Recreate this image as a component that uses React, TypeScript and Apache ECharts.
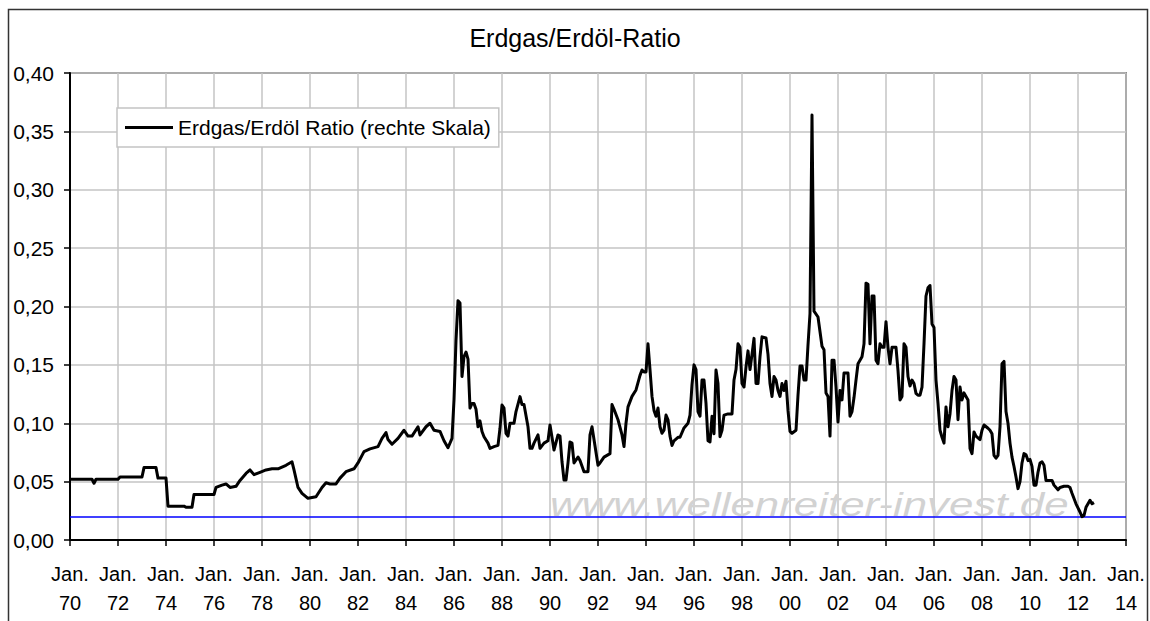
import React, { useEffect, useRef } from "react";
import * as echarts from "echarts";

const months: string[] = [
  "1970-01", "1970-12",
  "1971-01", "1971-02",
  "1972-01", "1972-02",
  "1973-01", "1973-02", "1973-08", "1973-09",
  "1974-01", "1974-02", "1974-10", "1974-11",
  "1975-02", "1975-03",
  "1976-01", "1976-02", "1976-05", "1976-07", "1976-09", "1976-12",
  "1977-02", "1977-05", "1977-07", "1977-09", "1977-12",
  "1978-03", "1978-06", "1978-09",
  "1979-01", "1979-04", "1979-05", "1979-07", "1979-09", "1979-12",
  "1980-04", "1980-07", "1980-09", "1980-11",
  "1981-02", "1981-04", "1981-07", "1981-11",
  "1982-01", "1982-04", "1982-07", "1982-11",
  "1983-01", "1983-03", "1983-04", "1983-06", "1983-09", "1983-12",
  "1984-02", "1984-04", "1984-07", "1984-08", "1984-11",
  "1985-01", "1985-03", "1985-06", "1985-08", "1985-10", "1985-12",
  "1986-01", "1986-02", "1986-03", "1986-04", "1986-05", "1986-06", "1986-07", "1986-08", "1986-09", "1986-10", "1986-11", "1986-12",
  "1987-01", "1987-02", "1987-03", "1987-04", "1987-06", "1987-07", "1987-09", "1987-11", "1987-12",
  "1988-01", "1988-02", "1988-03", "1988-04", "1988-05", "1988-07", "1988-08", "1988-10", "1988-11", "1988-12",
  "1989-02", "1989-03", "1989-04", "1989-05", "1989-07", "1989-08", "1989-10", "1989-12",
  "1990-01", "1990-02", "1990-03", "1990-05", "1990-06", "1990-07", "1990-08", "1990-09", "1990-10", "1990-11", "1990-12",
  "1991-01", "1991-03", "1991-04", "1991-06", "1991-08", "1991-09", "1991-10", "1991-11",
  "1992-01", "1992-02", "1992-04", "1992-07", "1992-08", "1992-09", "1992-11",
  "1993-01", "1993-02", "1993-03", "1993-04", "1993-06", "1993-08", "1993-10", "1993-11", "1993-12",
  "1994-01", "1994-02", "1994-03", "1994-04", "1994-05", "1994-06", "1994-07", "1994-08", "1994-09", "1994-10", "1994-11", "1994-12",
  "1995-01", "1995-02", "1995-03", "1995-05", "1995-06", "1995-08", "1995-10", "1995-11", "1995-12",
  "1996-01", "1996-02", "1996-03", "1996-04", "1996-05", "1996-06", "1996-07", "1996-08", "1996-09", "1996-10", "1996-11", "1996-12",
  "1997-01", "1997-02", "1997-03", "1997-04", "1997-06", "1997-08", "1997-09", "1997-10", "1997-11", "1997-12",
  "1998-01", "1998-02", "1998-03", "1998-04", "1998-05", "1998-06", "1998-07", "1998-08", "1998-09", "1998-10", "1998-11",
  "1999-01", "1999-02", "1999-03", "1999-04", "1999-05", "1999-06", "1999-07", "1999-08", "1999-09", "1999-10", "1999-11", "1999-12",
  "2000-01", "2000-02", "2000-04", "2000-05", "2000-06", "2000-07", "2000-08", "2000-09", "2000-10", "2000-11", "2000-12",
  "2001-01", "2001-03", "2001-05", "2001-06", "2001-07", "2001-08", "2001-09", "2001-10", "2001-11", "2001-12",
  "2002-01", "2002-02", "2002-03", "2002-04", "2002-05", "2002-06", "2002-07", "2002-08", "2002-09", "2002-10", "2002-11", "2002-12",
  "2003-01", "2003-02", "2003-03", "2003-04", "2003-05", "2003-06", "2003-07", "2003-08", "2003-09", "2003-10", "2003-11", "2003-12",
  "2004-01", "2004-02", "2004-03", "2004-04", "2004-05", "2004-06", "2004-07", "2004-08", "2004-09", "2004-10", "2004-11", "2004-12",
  "2005-01", "2005-02", "2005-03", "2005-04", "2005-05", "2005-06", "2005-07", "2005-08", "2005-09", "2005-10", "2005-11", "2005-12",
  "2006-01", "2006-02", "2006-03", "2006-04", "2006-05", "2006-06", "2006-07", "2006-08", "2006-09", "2006-10", "2006-11", "2006-12",
  "2007-01", "2007-02", "2007-03", "2007-04", "2007-05", "2007-06", "2007-07", "2007-08", "2007-09", "2007-10", "2007-12",
  "2008-01", "2008-02", "2008-04", "2008-05", "2008-06", "2008-07", "2008-08", "2008-09", "2008-10", "2008-11", "2008-12",
  "2009-01", "2009-02", "2009-03", "2009-04", "2009-05", "2009-06", "2009-07", "2009-08", "2009-09", "2009-10", "2009-11", "2009-12",
  "2010-01", "2010-02", "2010-03", "2010-04", "2010-05", "2010-06", "2010-07", "2010-08", "2010-09", "2010-12",
  "2011-01", "2011-03", "2011-04", "2011-06", "2011-08", "2011-09", "2011-10", "2011-12",
  "2012-02", "2012-03", "2012-04", "2012-05", "2012-07", "2012-08", "2012-09",
];

const ratio: number[] = [
  0.052, 0.052,
  0.0486, 0.052,
  0.052, 0.054,
  0.054, 0.062, 0.062, 0.053,
  0.053, 0.029, 0.029, 0.028,
  0.028, 0.039,
  0.039, 0.045, 0.047, 0.048, 0.045, 0.046,
  0.051, 0.057, 0.060, 0.056, 0.058,
  0.060, 0.061, 0.061,
  0.064, 0.067, 0.060, 0.045, 0.040, 0.0357,
  0.037, 0.045, 0.049, 0.048,
  0.048, 0.053, 0.0585, 0.061,
  0.066, 0.0757, 0.078, 0.080,
  0.087, 0.092, 0.086, 0.082, 0.087, 0.094,
  0.089, 0.089, 0.097, 0.090, 0.097,
  0.100, 0.094, 0.093, 0.085, 0.079, 0.087,
  0.120, 0.171, 0.205, 0.203, 0.140, 0.157, 0.161, 0.155, 0.113, 0.117, 0.117, 0.112,
  0.097, 0.102, 0.093, 0.0885, 0.083, 0.0785, 0.080, 0.081, 0.0957,
  0.1156, 0.113, 0.0914, 0.089, 0.100, 0.100, 0.110, 0.1228, 0.116, 0.116,
  0.097, 0.0785, 0.0785, 0.083, 0.090, 0.0785, 0.083, 0.085,
  0.0985, 0.088, 0.077, 0.090, 0.089, 0.067, 0.0514, 0.0514, 0.066, 0.084, 0.083,
  0.066, 0.071, 0.068, 0.0585, 0.0585, 0.090, 0.097, 0.086,
  0.064, 0.066, 0.071, 0.074, 0.116, 0.112, 0.103,
  0.090, 0.080, 0.100, 0.114, 0.123, 0.1285, 0.141, 0.1456, 0.144,
  0.144, 0.168, 0.146, 0.123, 0.111, 0.106, 0.113, 0.097, 0.0914, 0.094, 0.107, 0.103,
  0.089, 0.081, 0.085, 0.088, 0.088, 0.096, 0.100, 0.107, 0.133,
  0.150, 0.146, 0.110, 0.106, 0.137, 0.137, 0.117, 0.085, 0.084, 0.106, 0.091, 0.1456,
  0.134, 0.0885, 0.094, 0.107, 0.108, 0.108, 0.137, 0.146, 0.168, 0.165,
  0.134, 0.131, 0.148, 0.162, 0.146, 0.159, 0.1727, 0.134, 0.134, 0.157, 0.174,
  0.173, 0.159, 0.134, 0.123, 0.140, 0.137, 0.128, 0.123, 0.134, 0.128, 0.136, 0.111,
  0.093, 0.0914, 0.094, 0.124, 0.149, 0.149, 0.137, 0.137, 0.167, 0.194, 0.364,
  0.196, 0.191, 0.166, 0.163, 0.126, 0.123, 0.089, 0.154, 0.154, 0.131,
  0.101, 0.128, 0.120, 0.143, 0.143, 0.143, 0.106, 0.110, 0.122, 0.137, 0.151, 0.154,
  0.157, 0.168, 0.220, 0.219, 0.168, 0.209, 0.209, 0.154, 0.151, 0.168, 0.165, 0.165,
  0.187, 0.165, 0.151, 0.165, 0.165, 0.165, 0.145, 0.120, 0.123, 0.168, 0.165, 0.140,
  0.132, 0.137, 0.134, 0.1256, 0.124, 0.124, 0.131, 0.168, 0.209, 0.216, 0.218, 0.185,
  0.182, 0.137, 0.117, 0.094, 0.088, 0.083, 0.114, 0.097, 0.108, 0.128, 0.140, 0.137,
  0.103, 0.131, 0.120, 0.126, 0.123, 0.120, 0.0785, 0.074, 0.0925, 0.089, 0.086,
  0.094, 0.0985, 0.0957, 0.094, 0.091, 0.0725, 0.070, 0.0725, 0.097, 0.151, 0.153,
  0.110, 0.100, 0.083, 0.071, 0.063, 0.054, 0.044, 0.050, 0.066, 0.074, 0.073, 0.068,
  0.069, 0.063, 0.047, 0.047, 0.058, 0.066, 0.067, 0.064, 0.051, 0.051,
  0.047, 0.043, 0.045, 0.046, 0.046, 0.045, 0.040, 0.031,
  0.024, 0.020, 0.021, 0.028, 0.034, 0.031, 0.032,
];

// Horizontal blue reference level
const supportLevel = 0.0186;

const titleText = "Erdgas/Erdöl-Ratio";
const seriesName = "Erdgas/Erdöl Ratio (rechte Skala)";
const watermark = "www.wellenreiter-invest.de";

const xMin = 1970;
const xMax = 2014;
const xStep = 2;
const yMin = 0;
const yMax = 0.4;
const yStep = 0.05;

const FONT = '"Liberation Sans", Arial, sans-serif';

function toYear(m: string): number {
  const [y, mo] = m.split("-").map(Number);
  return y + (mo - 1) / 12;
}

export default function App() {
  const ref = useRef<HTMLDivElement>(null);

  useEffect(() => {
    if (!ref.current) return;
    const chart = echarts.init(ref.current, undefined, { renderer: "svg" });
    const data = months.map((m, i) => [toYear(m), ratio[i]]);

    chart.setOption({
      animation: false,
      backgroundColor: "#ffffff",
      textStyle: { fontFamily: FONT },
      title: {
        text: titleText,
        left: "center",
        top: 20,
        textStyle: { fontFamily: FONT, fontSize: 25, fontWeight: "normal", color: "#000" },
      },
      legend: {
        left: 117,
        top: 108,
        padding: [9, 8, 9, 8],
        borderColor: "#c4c4c4",
        borderWidth: 1.5,
        backgroundColor: "#ffffff",
        itemWidth: 48,
        itemHeight: 3,
        icon: "rect",
        textStyle: { fontFamily: FONT, fontSize: 21, color: "#000" },
        data: [seriesName],
      },
      grid: {
        left: 70,
        right: 24,
        top: 73,
        bottom: 81,
        show: true,
        borderColor: "#333",
        borderWidth: 1.5,
      },
      xAxis: {
        type: "value",
        min: xMin,
        max: xMax,
        interval: xStep,
        axisLine: { show: true, lineStyle: { color: "#000", width: 2 } },
        axisTick: { show: true, length: 6, lineStyle: { color: "#000", width: 1.5 } },
        splitLine: { show: true, lineStyle: { color: "#c4c4c4", width: 1.5 } },
        axisLabel: {
          fontFamily: FONT,
          fontSize: 20,
          color: "#000",
          margin: 20,
          lineHeight: 28.5,
          formatter: (v: number) => `Jan.\n${String(Math.round(v) % 100).padStart(2, "0")}`,
        },
      },
      yAxis: {
        type: "value",
        min: yMin,
        max: yMax,
        interval: yStep,
        axisLine: { show: true, lineStyle: { color: "#000", width: 2 } },
        axisTick: { show: true, length: 6, lineStyle: { color: "#000", width: 1.5 } },
        splitLine: { show: true, lineStyle: { color: "#c4c4c4", width: 1.5 } },
        axisLabel: {
          fontFamily: FONT,
          fontSize: 21,
          color: "#000",
          margin: 16,
          formatter: (v: number) => v.toFixed(2).replace(".", ","),
        },
      },
      graphic: [
        {
          type: "rect",
          z: 0,
          silent: true,
          shape: { x: 8.5, y: 9.5, width: 1139, height: 640 },
          style: { fill: "none", stroke: "#333", lineWidth: 1.5 },
        },
        {
          type: "text",
          z: 1,
          silent: true,
          x: 550,
          y: 505,
          scaleX: 1.33,
          style: {
            text: watermark,
            fontFamily: FONT,
            fontSize: 33,
            fontStyle: "italic",
            fill: "#d2d2d2",
            verticalAlign: "middle",
            align: "left",
          },
        },
      ],
      series: [
        {
          name: seriesName,
          type: "line",
          data,
          color: "#000",
          symbol: "none",
          showSymbol: false,
          z: 5,
          lineStyle: { color: "#000", width: 3, join: "round" },
          markLine: {
            silent: true,
            symbol: "none",
            label: { show: false },
            lineStyle: { color: "#0000ff", width: 1.5, type: "solid" },
            data: [{ yAxis: supportLevel }],
          },
        },
      ],
    });

    return () => chart.dispose();
  }, []);

  return (
    <div
      ref={ref}
      style={{ position: "fixed", left: 0, top: 0, width: 1150, height: 621, background: "#fff" }}
    />
  );
}
